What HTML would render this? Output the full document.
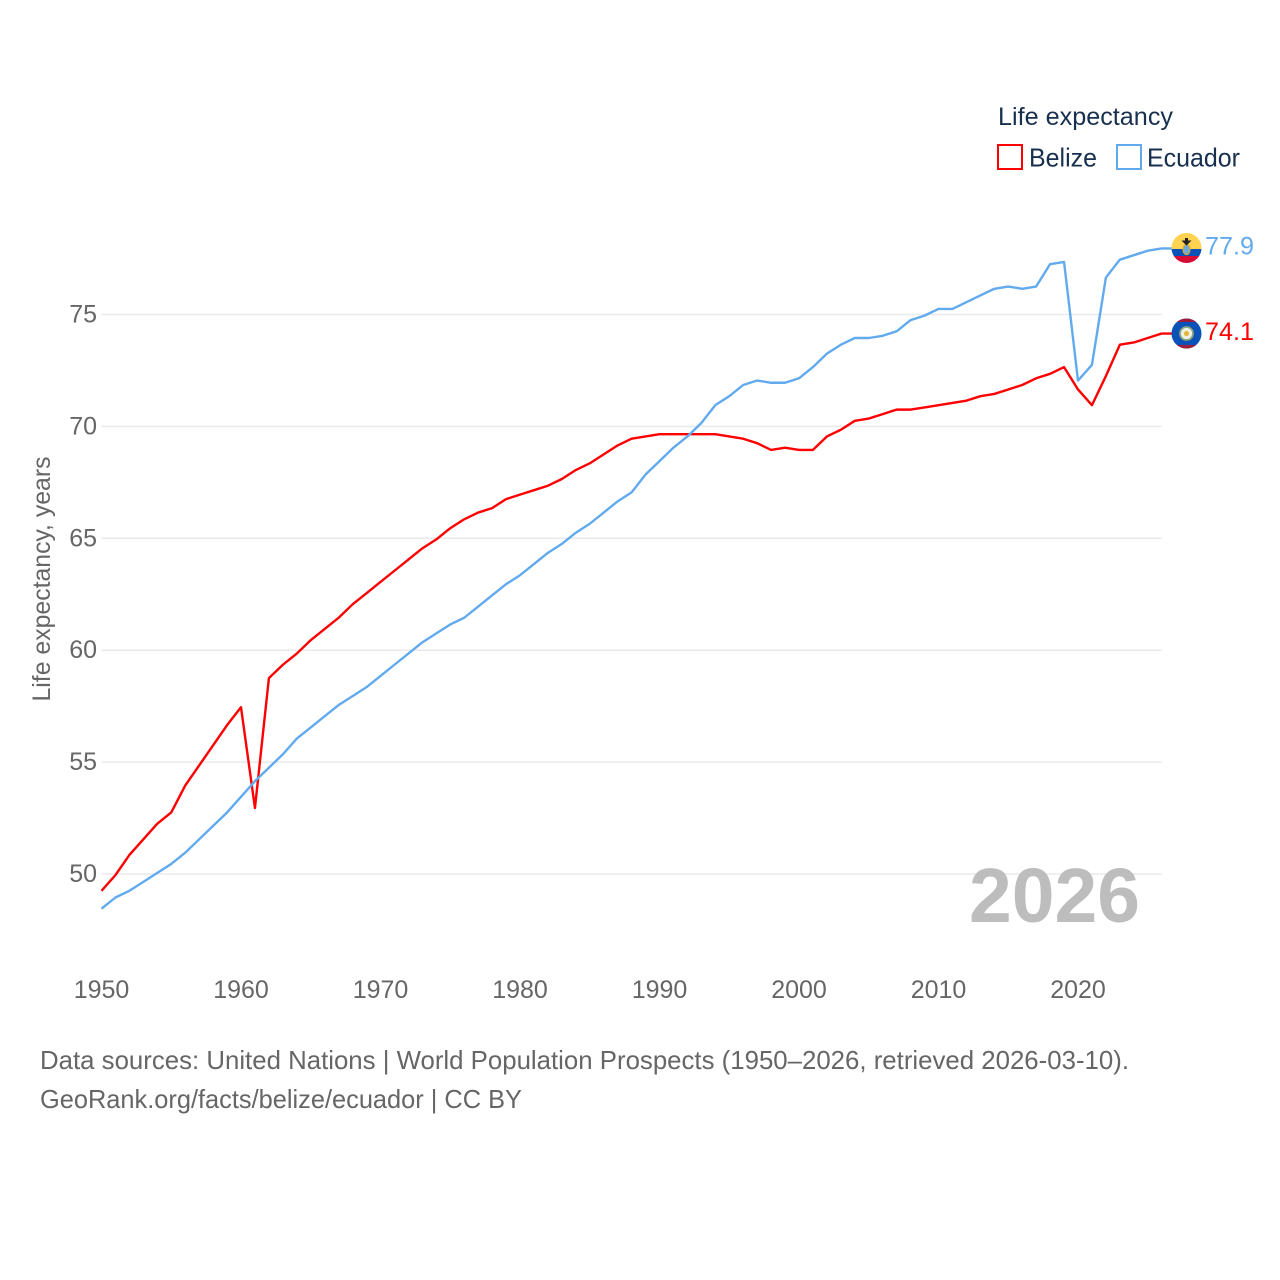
<!DOCTYPE html>
<html lang="en">
<head>
<meta charset="utf-8">
<title>Life expectancy: Belize and Ecuador</title>
<style>
html,body{margin:0;padding:0;background:#fff;width:1280px;height:1280px;overflow:hidden}
svg{display:block}
text{font-family:"Liberation Sans",sans-serif}
</style>
</head>
<body>
<svg id="chart" xmlns="http://www.w3.org/2000/svg" width="1280" height="1280" viewBox="0 0 1280 1280">
  <defs>
    <clipPath id="clip-ecuador"><circle cx="1186.5" cy="248" r="15"/></clipPath>
    <clipPath id="clip-belize"><circle cx="1186.5" cy="333.5" r="15"/></clipPath>
  </defs>
  <g id="grid"></g>
  <text x="1140" y="922" text-anchor="end" font-size="77" font-weight="700" fill="#bdbdbd" textLength="171" lengthAdjust="spacingAndGlyphs">2026</text>
  <g id="y-ticks"></g>
  <g id="x-ticks"></g>
  <text transform="translate(50,579) rotate(-90)" text-anchor="middle" font-size="25" fill="#666" textLength="245" lengthAdjust="spacingAndGlyphs">Life expectancy, years</text>
  <g id="lines"></g>

  <g clip-path="url(#clip-ecuador)">
    <rect x="1171" y="233" width="31" height="16" fill="#ffd34f"/>
    <rect x="1171" y="249" width="31" height="7" fill="#0b52b8"/>
    <rect x="1171" y="256" width="31" height="8" fill="#d80b36"/>
    <ellipse cx="1186.5" cy="249.5" rx="3.5" ry="5" fill="#6da9dc" stroke="#dfa72a" stroke-width="1.2"/>
    <path d="M1181.5 240.5h10l-2.5 2.5-2.5 2.5-2.5-2.5z M1185 238h3v3h-3z" fill="#222"/>
  </g>
  <g clip-path="url(#clip-belize)">
    <rect x="1171" y="318" width="31" height="31" fill="#0b52b8"/>
    <rect x="1171" y="318" width="31" height="4" fill="#9c1a3c"/>
    <rect x="1171" y="345" width="31" height="4" fill="#9c1a3c"/>
    <circle cx="1186.5" cy="333.5" r="6.5" fill="#eef0ea" stroke="#8aa57a" stroke-width="1.8"/>
    <circle cx="1186.5" cy="333.5" r="2.6" fill="#e2b93b"/>
  </g>
  <g id="end-labels"></g>

  <g>
    <text x="998" y="125" font-size="25" fill="#18304f" textLength="175" lengthAdjust="spacingAndGlyphs">Life expectancy</text>
    <g>
      <rect x="998" y="145" width="24" height="24" fill="#fff" stroke="#ff0000" stroke-width="2"/>
      <text x="1029" y="166.5" font-size="26" fill="#18304f" textLength="68" lengthAdjust="spacingAndGlyphs">Belize</text>
    </g>
    <g>
      <rect x="1117" y="145" width="24" height="24" fill="#fff" stroke="#62aaee" stroke-width="2"/>
      <text x="1147" y="166.5" font-size="26" fill="#18304f" textLength="93" lengthAdjust="spacingAndGlyphs">Ecuador</text>
    </g>
  </g>

  <text x="40" y="1069" font-size="26" fill="#666" textLength="1089" lengthAdjust="spacingAndGlyphs">Data sources: United Nations | World Population Prospects (1950–2026, retrieved 2026-03-10).</text>
  <text x="40" y="1108" font-size="26" fill="#666" textLength="482" lengthAdjust="spacingAndGlyphs">GeoRank.org/facts/belize/ecuador | CC BY</text>
</svg>
<script>
const startYear = 1950;
const yTickValues = [50, 55, 60, 65, 70, 75];
const xTickValues = [1950, 1960, 1970, 1980, 1990, 2000, 2010, 2020];
const belizeValues = [49.25,49.95,50.85,51.55,52.25,52.75,53.95,54.85,55.75,56.65,57.45,52.95,58.75,59.35,59.85,60.45,60.95,61.45,62.05,62.55,63.05,63.55,64.05,64.55,64.95,65.45,65.85,66.15,66.35,66.75,66.95,67.15,67.35,67.65,68.05,68.35,68.75,69.15,69.45,69.55,69.65,69.65,69.65,69.65,69.65,69.55,69.45,69.25,68.95,69.05,68.95,68.95,69.55,69.85,70.25,70.35,70.55,70.75,70.75,70.85,70.95,71.05,71.15,71.35,71.45,71.65,71.85,72.15,72.35,72.65,71.65,70.95,72.25,73.65,73.75,73.95,74.15];
const ecuadorValues = [48.45,48.95,49.25,49.65,50.05,50.45,50.95,51.55,52.15,52.75,53.45,54.15,54.75,55.35,56.05,56.55,57.05,57.55,57.95,58.35,58.85,59.35,59.85,60.35,60.75,61.15,61.45,61.95,62.45,62.95,63.35,63.85,64.35,64.75,65.25,65.65,66.15,66.65,67.05,67.85,68.45,69.05,69.55,70.15,70.95,71.35,71.85,72.05,71.95,71.95,72.15,72.65,73.25,73.65,73.95,73.95,74.05,74.25,74.75,74.95,75.25,75.25,75.55,75.85,76.15,76.25,76.15,76.25,77.25,77.35,72.05,72.75,76.65,77.45,77.65,77.85,77.95];
const belizeLabel = "74.1";
const ecuadorLabel = "77.9";

const NS = "http://www.w3.org/2000/svg";
function xScale(year) { return 101.5 + (year - 1950) * 13.95; }
function yScale(v) { return 874 - (v - 50) * 22.38; }
function make(tag, attrs, text) {
  const el = document.createElementNS(NS, tag);
  for (const k in attrs) el.setAttribute(k, attrs[k]);
  if (text !== undefined) el.textContent = text;
  return el;
}

const grid = document.getElementById("grid");
const yTicks = document.getElementById("y-ticks");
yTickValues.forEach(function (v) {
  const line = make("line", { x1: 101.5, x2: 1162, y1: yScale(v), y2: yScale(v), stroke: "#eaeaea", "stroke-width": 1.5 });
  
  
  grid.appendChild(line);
  const label = make("text", { x: 97, y: yScale(v) + 8, "text-anchor": "end", "font-size": 25, fill: "#666" }, String(v));
  
  
  yTicks.appendChild(label);
});

const xTicks = document.getElementById("x-ticks");
xTickValues.forEach(function (y) {
  const label = make("text", { x: xScale(y), y: 998, "text-anchor": "middle", "font-size": 25, fill: "#666" }, String(y));
  
  
  xTicks.appendChild(label);
});

function linePath(values) {
  return values.map(function (v, i) {
    return (i ? "L" : "M") + xScale(startYear + i).toFixed(2) + " " + yScale(v).toFixed(2);
  }).join("");
}
function tailPath(values) {
  const last = values.length - 1;
  const y = yScale(values[last]);
  return "M" + xScale(startYear + last).toFixed(2) + " " + y.toFixed(2) + "H1172";
}

const lines = document.getElementById("lines");
const belizeLine = make("path", { d: linePath(belizeValues) + tailPath(belizeValues), fill: "none", stroke: "#ff0000", "stroke-width": 2.4, "stroke-linejoin": "round" });


lines.appendChild(belizeLine);
const ecuadorLine = make("path", { d: linePath(ecuadorValues) + tailPath(ecuadorValues), fill: "none", stroke: "#62aaee", "stroke-width": 2.4, "stroke-linejoin": "round" });


lines.appendChild(ecuadorLine);

const endLabels = document.getElementById("end-labels");
const belizeEnd = make("text", { x: 1205, y: 340, "font-size": 25, fill: "#ff0000", textLength: 49, lengthAdjust: "spacingAndGlyphs" }, belizeLabel);


endLabels.appendChild(belizeEnd);
const ecuadorEnd = make("text", { x: 1205, y: 254.5, "font-size": 25, fill: "#62aaee", textLength: 49, lengthAdjust: "spacingAndGlyphs" }, ecuadorLabel);


endLabels.appendChild(ecuadorEnd);
</script>
</body>
</html>
